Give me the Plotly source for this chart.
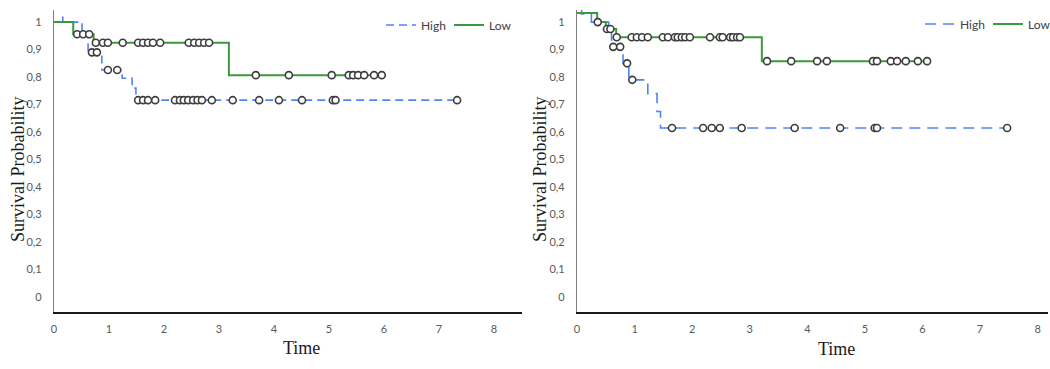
import numpy as np
import plotly.graph_objects as go

# ---------------- data ----------------
# Left panel
L_high_t = [0.16, 0.16, 0.51, 0.62, 0.87, 1.24, 1.42, 1.49, 7.33]
L_high_s = [1.02, 1.00, 0.956, 0.89, 0.826, 0.796, 0.76, 0.716, 0.716]
L_low_t = [0.0, 0.35, 0.72, 3.18, 5.96]
L_low_s = [1.00, 0.956, 0.925, 0.807, 0.807]
L_high_cens = [0.69, 0.78, 0.98, 1.15, 1.53, 1.62, 1.71, 1.84, 2.20, 2.29, 2.36, 2.44,
               2.53, 2.61, 2.69, 2.87, 3.25, 3.73, 4.09, 4.51, 5.07, 5.12, 7.33]
L_low_cens = [0.42, 0.53, 0.64, 0.76, 0.89, 0.98, 1.25, 1.53, 1.62, 1.71, 1.80, 1.93,
              2.45, 2.55, 2.64, 2.73, 2.82, 3.67, 4.27, 5.05, 5.36, 5.44, 5.53, 5.64,
              5.82, 5.96]

# Right panel
R_high_t = [0.08, 0.08, 0.25, 0.55, 0.60, 0.80, 0.90, 1.23, 1.39, 1.45, 7.47]
R_high_s = [1.06, 1.03, 1.00, 0.975, 0.91, 0.85, 0.79, 0.74, 0.675, 0.615, 0.615]
R_low_t = [0.0, 0.35, 0.50, 0.68, 3.21, 6.08]
R_low_s = [1.033, 1.00, 0.975, 0.945, 0.858, 0.858]
R_high_cens = [0.36, 0.63, 0.75, 0.87, 0.96, 1.65, 2.19, 2.34, 2.48, 2.86, 3.78, 4.57,
               5.17, 5.21, 7.47]
R_low_cens = [0.52, 0.58, 0.69, 0.95, 1.04, 1.13, 1.23, 1.49, 1.58, 1.70, 1.75, 1.82,
              1.88, 1.96, 2.31, 2.48, 2.53, 2.66, 2.71, 2.78, 2.83, 3.30, 3.72, 4.17,
              4.34, 5.14, 5.21, 5.45, 5.56, 5.71, 5.92, 6.08]

y_tickvals = [0, 0.1, 0.2, 0.3, 0.4, 0.5, 0.6, 0.7, 0.8, 0.9, 1.0]
y_ticktext = ["0", "0,1", "0,2", "0,3", "0,4", "0,5", "0,6", "0,7", "0,8", "0,9", "1"]
x_tickvals = [0, 1, 2, 3, 4, 5, 6, 7, 8]

BLUE = "#5083f7"
GREEN = "#3b9a3b"
CIRC = "#3d3d3d"


def step_at(ts, ss, c):
    idx = int(np.searchsorted(np.array(ts), c, side="right")) - 1
    idx = max(idx, 0)
    return ss[idx]


fig = go.Figure()


def add_panel(xa, ya, legend, ht, hs, lt, ls, hc, lc, dash):
    fig.add_trace(go.Scatter(x=ht, y=hs, mode="lines", line_shape="hv", name="High",
                             line=dict(color=BLUE, width=1.6, dash=dash),
                             xaxis=xa, yaxis=ya, legend=legend))
    fig.add_trace(go.Scatter(x=lt, y=ls, mode="lines", line_shape="hv", name="Low",
                             line=dict(color=GREEN, width=2),
                             xaxis=xa, yaxis=ya, legend=legend))
    for cens, ts, ss in ((hc, ht, hs), (lc, lt, ls)):
        fig.add_trace(go.Scatter(
            x=cens, y=[step_at(ts, ss, c) for c in cens], mode="markers",
            marker=dict(symbol="circle", size=7, color="white",
                        line=dict(color=CIRC, width=1.6)),
            showlegend=False, xaxis=xa, yaxis=ya, cliponaxis=False))


add_panel("x", "y", "legend", L_high_t, L_high_s, L_low_t, L_low_s,
          L_high_cens, L_low_cens, "8px,5px")
add_panel("x2", "y2", "legend2", R_high_t, R_high_s, R_low_t, R_low_s,
          R_high_cens, R_low_cens, "11px,7px")

W, H = 1050, 369
ydom = [(H - 312) / H, (H - 10) / H]
tickfont = dict(family="Lato, Open Sans, sans-serif", size=11, color="#595959")

xcommon = dict(showgrid=False, zeroline=False, showline=True, linecolor="#1a1a1a",
               linewidth=1.5, tickvals=x_tickvals, ticks="", tickfont=tickfont,
               ticklabelstandoff=6, automargin=False)
ycommon = dict(showgrid=False, zeroline=False, showline=True, linecolor="#7f7f7f",
               linewidth=1.2, tickvals=y_tickvals, ticktext=y_ticktext, ticks="",
               tickfont=tickfont, range=[-0.0545, 1.044], domain=ydom,
               ticklabelstandoff=9, automargin=False)

legfont = dict(family="Lato, Open Sans, sans-serif", size=12, color="#404040")

fig.update_layout(
    width=W, height=H,
    margin=dict(l=0, r=0, t=0, b=0, autoexpand=False),
    paper_bgcolor="white", plot_bgcolor="white",
    xaxis=dict(domain=[54 / W, 522 / W], range=[0, 8.51], anchor="y", **xcommon),
    yaxis=dict(anchor="x", **ycommon),
    xaxis2=dict(domain=[577 / W, 1048 / W], range=[0, 8.18], anchor="y2", **xcommon),
    yaxis2=dict(anchor="x2", **ycommon),
    legend=dict(orientation="h", x=381 / W, xanchor="left", y=1 - 25 / H,
                yanchor="middle", font=legfont, entrywidth=23,
                entrywidthmode="pixels", bgcolor="rgba(0,0,0,0)", itemwidth=30),
    legend2=dict(orientation="h", x=920 / W, xanchor="left", y=1 - 24 / H,
                 yanchor="middle", font=legfont, entrywidth=23,
                 entrywidthmode="pixels", bgcolor="rgba(0,0,0,0)", itemwidth=30),
    showlegend=True,
)

titlefont = dict(family="Liberation Serif, Times New Roman, serif", size=18, color="#1a1a1a")
for xc, yc in ((301, 348), (836, 349)):
    fig.add_annotation(text="Time", x=xc / W, y=1 - yc / H, xref="paper", yref="paper",
                       showarrow=False, font=titlefont, xanchor="center", yanchor="middle")
for xc, yc in ((18, 169), (540, 169)):
    fig.add_annotation(text="Survival Probability", x=xc / W, y=1 - yc / H, xref="paper",
                       yref="paper", showarrow=False, font=titlefont, textangle=-90,
                       xanchor="center", yanchor="middle")

fig.write_html("out.html")
